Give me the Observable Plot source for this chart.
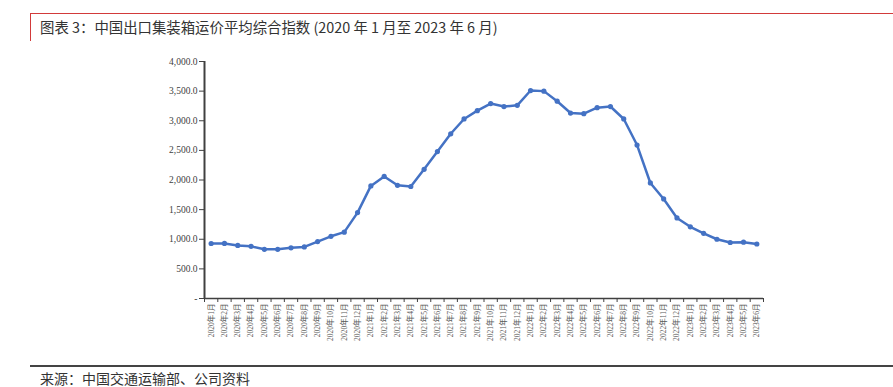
<!DOCTYPE html>
<html><head><meta charset="utf-8">
<script src="https://cdn.jsdelivr.net/npm/d3@7"></script>
<script src="https://cdn.jsdelivr.net/npm/@observablehq/plot@0.6"></script>
<style>
body{margin:0;background:#fff;}
#wrap{position:relative;width:893px;height:387px;overflow:hidden;font-family:"Noto Sans CJK SC",sans-serif;}
.topline{position:absolute;left:30px;top:13px;width:863px;height:0;border-top:1.5px solid #d23a3a;}
.vline{position:absolute;left:30px;top:13px;width:0;height:28px;border-left:1.5px solid #d23a3a;}
.title{position:absolute;left:40px;top:17px;font-size:14.4px;color:#333;white-space:nowrap;line-height:20px;}
#chart{position:absolute;left:0;top:50px;}
.bline{position:absolute;left:30px;top:365px;width:863px;height:0;border-top:2px solid #444;}
.source{position:absolute;left:40px;top:370px;font-size:14px;color:#333;white-space:nowrap;line-height:16px;}
</style></head><body>
<div id="wrap">
  <div class="topline"></div><div class="vline"></div>
  <div class="title">图表 3：中国出口集装箱运价平均综合指数 (2020 年 1 月至 2023 年 6 月)</div>
  <div id="chart"></div>
  <div class="bline"></div>
  <div class="source">来源：中国交通运输部、公司资料</div>
</div>
<script>
const months = [
  "2020年1月","2020年2月","2020年3月","2020年4月","2020年5月","2020年6月","2020年7月","2020年8月","2020年9月","2020年10月","2020年11月","2020年12月",
  "2021年1月","2021年2月","2021年3月","2021年4月","2021年5月","2021年6月","2021年7月","2021年8月","2021年9月","2021年10月","2021年11月","2021年12月",
  "2022年1月","2022年2月","2022年3月","2022年4月","2022年5月","2022年6月","2022年7月","2022年8月","2022年9月","2022年10月","2022年11月","2022年12月",
  "2023年1月","2023年2月","2023年3月","2023年4月","2023年5月","2023年6月"
];
const values = [
  928, 930, 895, 880, 830, 830, 855, 870, 960, 1050, 1120, 1450,
  1900, 2060, 1910, 1890, 2180, 2480, 2780, 3030, 3170, 3290, 3240, 3260,
  3510, 3500, 3330, 3130, 3120, 3220, 3240, 3030, 2590, 1950, 1680, 1360,
  1210, 1100, 1000, 945, 950, 920
];
const yTicks = [0, 500, 1000, 1500, 2000, 2500, 3000, 3500, 4000];

const data = months.map((m, i) => ({i, m, v: values[i]}));
const centers = months.map((m, i) => i);
const boundaries = months.map((m, i) => i - 0.5).concat([months.length - 0.5]);
const fmt = d3.format(",.1f");

const chart = Plot.plot({
  width: 893, height: 300,
  marginTop: 11, marginBottom: 52, marginLeft: 204, marginRight: 130,
  style: {background: "transparent", overflow: "visible"},
  x: {type: "linear", domain: [-0.5, months.length - 0.5]},
  y: {domain: [0, 4000]},
  marks: [
    Plot.axisY({ticks: yTicks, tickSize: 5, tickPadding: 2, label: null, stroke: "#404040",
      tickFormat: d => d === 0 ? "-" : fmt(d), fontSize: 9.5, fontFamily: "Liberation Serif", fill: "#404040"}),
    Plot.axisX({ticks: boundaries, tickSize: 4, tickFormat: () => "", label: null, stroke: "#404040"}),
    Plot.axisX({ticks: centers, tickSize: 0, tickPadding: 5, tickRotate: -90, label: null,
      tickFormat: i => months[i], fontSize: 7.5, fontFamily: "Liberation Serif, Noto Sans CJK SC", fill: "#595959"}),
    Plot.ruleY([0], {stroke: "#404040", strokeWidth: 1.5}),
    Plot.ruleX([-0.5], {stroke: "#404040", strokeWidth: 2}),
    Plot.line(data, {x: "i", y: "v", stroke: "#4472C4", strokeWidth: 2.5}),
    Plot.dot(data, {x: "i", y: "v", fill: "#4472C4", r: 2.6})
  ]
});
document.getElementById("chart").appendChild(chart);
</script>
</body></html>
